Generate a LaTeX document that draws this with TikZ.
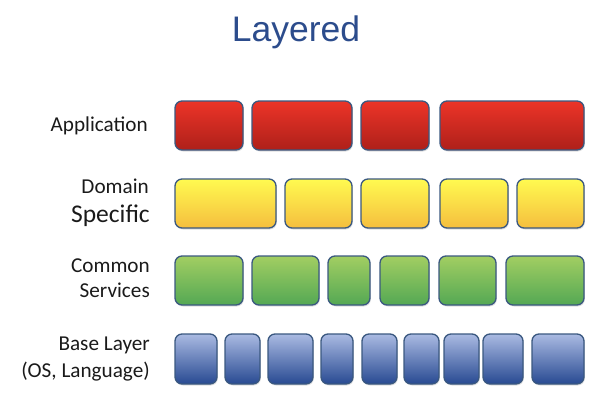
\documentclass[tikz,border=0pt]{standalone}
\usepackage{fontspec}
\setmainfont{Carlito}
\newfontfamily\titlefont{Liberation Sans}
\usetikzlibrary{shadows}
\definecolor{titleblue}{RGB}{44,76,140}
\definecolor{edgeblue}{RGB}{58,88,128}
\definecolor{redtop}{RGB}{236,52,40}
\definecolor{redbot}{RGB}{174,32,26}
\definecolor{yeltop}{RGB}{255,250,80}
\definecolor{yelbot}{RGB}{245,190,62}
\definecolor{grntop}{RGB}{162,206,98}
\definecolor{grnbot}{RGB}{84,168,84}
\definecolor{blutop}{RGB}{170,186,226}
\definecolor{blubot}{RGB}{40,74,146}
\definecolor{labelink}{RGB}{26,26,26}
\tikzset{
  layerbox/.style={draw=edgeblue, line width=1.3pt, rounded corners=7pt,
    inner sep=0pt, outer sep=0pt, anchor=north west,
    drop shadow={shadow xshift=0.8pt, shadow yshift=-1.5pt, opacity=0.25}},
  appbox/.style={layerbox, top color=redtop, bottom color=redbot, minimum height=49pt},
  dombox/.style={layerbox, top color=yeltop, bottom color=yelbot, minimum height=49pt},
  combox/.style={layerbox, top color=grntop, bottom color=grnbot, minimum height=49pt},
  basebox/.style={layerbox, top color=blutop, bottom color=blubot, minimum height=50pt},
  lbl/.style={anchor=base east, inner sep=0pt, text=labelink, font=\fontsize{21.2}{24}\selectfont},
}
\begin{document}
\begin{tikzpicture}[x=1pt,y=-1pt]
\useasboundingbox (0,0) rectangle (608,400);
\node[anchor=base, inner sep=0pt, text=titleblue, font=\titlefont\fontsize{35.5}{40}\selectfont] (title) at (296,41.7) {Layered};
% rows
\foreach \a/\b [count=\i] in {175/243,252/352,361/429,440/584}
  \node[appbox, minimum width={(\b-\a)*1pt}] (app\i) at (\a,101) {};
\foreach \a/\b [count=\i] in {175/276,285/352,361/429,440/508,517/584}
  \node[dombox, minimum width={(\b-\a)*1pt}] (dom\i) at (\a,179) {};
\foreach \a/\b [count=\i] in {175/243,252/319,328/370,380/429,439/496,506/584}
  \node[combox, minimum width={(\b-\a)*1pt}] (com\i) at (\a,256) {};
\foreach \a/\b [count=\i] in {175/217,225/260,268/313,321/353,362/397,404/439,444/479,483/523,532/584}
  \node[basebox, minimum width={(\b-\a)*1pt}] (base\i) at (\a,334) {};
% labels
\node[lbl] (lapp) at (148,131) {Application};
\node[lbl] (ldom1) at (149,193) {Domain};
\node[lbl, font=\fontsize{25.5}{28}\selectfont] (ldom2) at (150,222) {Specific};
\node[lbl] (lcom1) at (150,272) {Common};
\node[lbl] (lcom2) at (150,297) {Services};
\node[lbl] (lbase1) at (150,350) {Base Layer};
\node[lbl] (lbase2) at (150,377) {(OS, Language)};
\end{tikzpicture}
\end{document}
